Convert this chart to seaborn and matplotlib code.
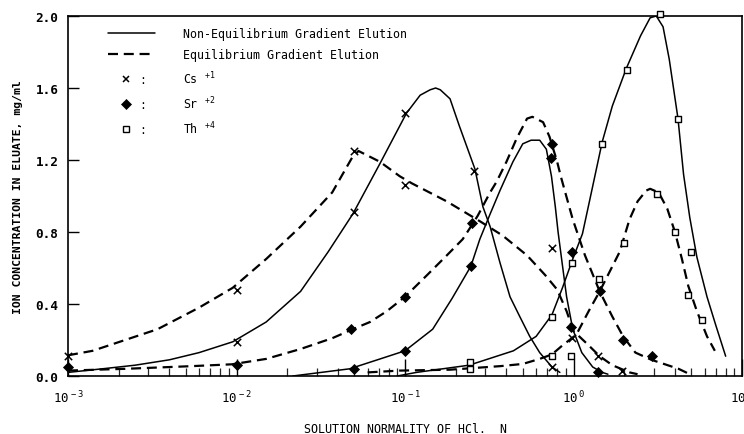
import numpy as np
import pandas as pd
import matplotlib
matplotlib.use("Agg")
import matplotlib.pyplot as plt
import seaborn as sns
from matplotlib.lines import Line2D
from matplotlib.text import Text
from matplotlib.legend_handler import HandlerBase
from matplotlib.ticker import LogLocator, FuncFormatter, NullFormatter, FixedLocator

# ---------------- data ----------------
# curves (solution normality N, concentration mg/ml)
cs_neq_N = [0.001, 0.0016, 0.0025, 0.004, 0.006, 0.0095, 0.015, 0.024, 0.035, 0.049, 0.071, 0.102,
            0.123, 0.141, 0.152, 0.162, 0.185, 0.21, 0.26, 0.29, 0.32, 0.366, 0.42, 0.48, 0.55,
            0.63, 0.745, 0.83]
cs_neq_y = [0.02, 0.04, 0.06, 0.09, 0.13, 0.19, 0.30, 0.47, 0.69, 0.90, 1.18, 1.46,
            1.56, 1.59, 1.60, 1.59, 1.54, 1.39, 1.15, 0.94, 0.83, 0.63, 0.44, 0.33, 0.22,
            0.13, 0.05, 0.02]

cs_eq_N = [0.001, 0.0014, 0.0034, 0.006, 0.0095, 0.015, 0.024, 0.037, 0.049, 0.053, 0.071, 0.093,
           0.11, 0.177, 0.278, 0.38, 0.53, 0.68, 0.80, 0.91, 1.0, 1.2, 1.43, 1.7, 2.15, 2.4]
cs_eq_y = [0.115, 0.14, 0.26, 0.38, 0.49, 0.65, 0.83, 1.02, 1.22, 1.25, 1.19, 1.11,
           1.07, 0.97, 0.86, 0.78, 0.67, 0.56, 0.48, 0.36, 0.25, 0.18, 0.11, 0.06, 0.02, 0.01]

sr_neq_N = [0.0216, 0.030, 0.047, 0.074, 0.1, 0.146, 0.19, 0.246, 0.278, 0.32, 0.366, 0.437,
            0.50, 0.56, 0.63, 0.69, 0.74, 0.78, 0.81, 0.85, 0.91, 0.99, 1.12, 1.3, 1.48, 1.6]
sr_neq_y = [0.0, 0.017, 0.04, 0.10, 0.14, 0.26, 0.43, 0.61, 0.76, 0.90, 1.03, 1.19,
            1.29, 1.31, 1.31, 1.26, 1.11, 0.94, 0.80, 0.65, 0.44, 0.26, 0.13, 0.05, 0.02, 0.01]

sr_eq_N = [0.001, 0.0022, 0.0055, 0.0094, 0.015, 0.024, 0.037, 0.049, 0.062, 0.078, 0.1, 0.135,
           0.177, 0.22, 0.25, 0.27, 0.32, 0.35, 0.40, 0.46, 0.53, 0.57, 0.66, 0.72, 0.80, 0.84,
           0.99, 1.17, 1.43, 1.7, 1.97, 2.33, 2.9, 4.2, 4.9]
sr_eq_y = [0.03, 0.04, 0.055, 0.065, 0.095, 0.15, 0.21, 0.26, 0.30, 0.36, 0.44, 0.56,
           0.67, 0.76, 0.84, 0.89, 1.02, 1.08, 1.19, 1.32, 1.43, 1.44, 1.41, 1.33, 1.19, 1.11,
           0.87, 0.67, 0.47, 0.33, 0.22, 0.13, 0.09, 0.04, 0.01]

th_neq_N = [0.09, 0.117, 0.24, 0.44, 0.6, 0.745, 0.86, 0.99, 1.13, 1.25, 1.48, 1.7, 2.06, 2.5,
            2.85, 3.1, 3.4, 3.7, 4.17, 4.5, 4.9, 5.4, 6.2, 7.0, 8.0]
th_neq_y = [0.0, 0.02, 0.06, 0.14, 0.22, 0.34, 0.49, 0.65, 0.79, 0.98, 1.30, 1.50, 1.71, 1.89,
            1.99, 2.0, 1.94, 1.76, 1.43, 1.12, 0.88, 0.66, 0.44, 0.28, 0.11]

th_eq_N = [0.06, 0.093, 0.185, 0.37, 0.5, 0.63, 0.745, 0.86, 1.04, 1.23, 1.43, 1.64, 1.88, 2.15,
           2.4, 2.7, 2.85, 3.2, 3.6, 4.0, 4.4, 4.8, 5.4, 6.2, 6.9]
th_eq_y = [0.02, 0.03, 0.035, 0.055, 0.067, 0.095, 0.12, 0.17, 0.23, 0.36, 0.47, 0.58, 0.69, 0.87,
           0.97, 1.03, 1.04, 1.02, 0.93, 0.80, 0.65, 0.50, 0.36, 0.22, 0.14]

# measured points
cs_pts_N = [0.001, 0.01, 0.05, 0.1, 0.745, 0.98, 1.40, 1.94, 0.01, 0.05, 0.1, 0.257, 0.745]
cs_pts_y = [0.11, 0.48, 1.25, 1.06, 0.71, 0.21, 0.11, 0.03, 0.19, 0.91, 1.46, 1.14, 0.05]

sr_pts_N = [0.001, 0.01, 0.048, 0.1, 0.25, 0.745, 0.98, 1.43, 1.98, 2.92,
            0.05, 0.1, 0.246, 0.74, 0.96, 1.40]
sr_pts_y = [0.05, 0.06, 0.26, 0.44, 0.85, 1.29, 0.69, 0.47, 0.20, 0.11,
            0.04, 0.14, 0.61, 1.21, 0.27, 0.02]

th_pts_N = [0.243, 0.745, 0.98, 1.48, 2.08, 3.26, 4.17, 4.95,
            0.243, 0.745, 0.96, 1.41, 2.0, 3.13, 4.0, 4.8, 5.8]
th_pts_y = [0.08, 0.33, 0.63, 1.29, 1.70, 2.01, 1.43, 0.69,
            0.04, 0.11, 0.11, 0.54, 0.74, 1.01, 0.80, 0.45, 0.31]

legend_labels = ["Non-Equilibrium Gradient Elution", "Equilibrium Gradient Elution",
                 r"Cs $^{+1}$", r"Sr $^{+2}$", r"Th $^{+4}$"]
x_label = "SOLUTION NORMALITY OF HCl.  N"
y_label = "ION CONCENTRATION IN ELUATE, mg/ml"
y_ticks = [0.0, 0.4, 0.8, 1.2, 1.6, 2.0]

# ---------------- style ----------------
sns.set_theme(style="ticks")
MONO = "DejaVu Sans Mono"
plt.rcParams["font.family"] = [MONO, "DejaVu Sans"]
plt.rcParams["mathtext.fontset"] = "custom"
plt.rcParams["mathtext.rm"] = MONO
plt.rcParams["mathtext.it"] = MONO
plt.rcParams["mathtext.bf"] = MONO + ":bold"

fig = plt.figure(figsize=(7.44, 4.35), dpi=100)
ax = fig.add_axes([68 / 744, 1 - 377 / 435, 674 / 744, 360 / 435])
ax.set_xscale("log")

SOLID = dict(color="black", linewidth=1.1, linestyle="-")
DASH = dict(color="black", linewidth=1.6, linestyle=(0, (4.5, 2.6)))

curves = [(cs_neq_N, cs_neq_y, SOLID), (cs_eq_N, cs_eq_y, DASH),
          (sr_neq_N, sr_neq_y, SOLID), (sr_eq_N, sr_eq_y, DASH),
          (th_neq_N, th_neq_y, SOLID), (th_eq_N, th_eq_y, DASH)]
for xs, ys, st in curves:
    df = pd.DataFrame({"N": xs, "c": ys})
    sns.lineplot(data=df, x="N", y="c", ax=ax, estimator=None, sort=False, **st)

sns.scatterplot(x=cs_pts_N, y=cs_pts_y, ax=ax, marker="x", color="black", s=28,
                linewidth=1.1, zorder=4, clip_on=False)
sns.scatterplot(x=sr_pts_N, y=sr_pts_y, ax=ax, marker="D", color="black", s=32,
                linewidth=0, zorder=4, clip_on=False)
sns.scatterplot(x=th_pts_N, y=th_pts_y, ax=ax, marker="s", color="black", s=24,
                linewidth=1.0, zorder=4, clip_on=False)
coll = ax.collections[-1]
coll.set_facecolor("white")
coll.set_edgecolor("black")

ax.set_xlim(1e-3, 1e1)
ax.set_ylim(0, 2.0)
ax.xaxis.set_major_locator(LogLocator(base=10, numticks=10))
ax.xaxis.set_minor_locator(LogLocator(base=10, subs=np.arange(2, 10), numticks=20))
ax.xaxis.set_minor_formatter(NullFormatter())
ax.xaxis.set_major_formatter(FuncFormatter(lambda v, p: r"$10^{\ %d}$" % round(np.log10(v))))
ax.yaxis.set_major_locator(FixedLocator(y_ticks))
ax.yaxis.set_major_formatter(FuncFormatter(lambda v, p: "%.1f" % v))

ax.tick_params(axis="x", which="major", direction="in", length=12, width=1.0, pad=9,
               labelsize=9, colors="black", top=False)
ax.tick_params(axis="x", which="minor", direction="in", length=6, width=0.9, top=False)
ax.tick_params(axis="y", which="major", direction="in", length=8, width=1.0, pad=7,
               labelsize=9.2, colors="black", right=False)
for lab in ax.get_yticklabels():
    lab.set_fontweight("bold")
for sp in ax.spines.values():
    sp.set_visible(True)
    sp.set_color("black")
    sp.set_linewidth(1.2)

ax.set_xlabel(x_label, fontsize=8.4, labelpad=12, color="black")
ax.set_ylabel(y_label, fontsize=8.2, labelpad=9, color="black", fontweight="bold")
ax.grid(False)


# ---------------- legend ----------------
class MarkColon(HandlerBase):
    def create_artists(self, legend, orig_handle, xdescent, ydescent, width, height,
                       fontsize, trans):
        y = height / 2 - ydescent
        m = Line2D([-xdescent + width * 0.38], [y], linestyle="none",
                   marker=orig_handle.get_marker(),
                   markersize=orig_handle.get_markersize(),
                   markerfacecolor=orig_handle.get_markerfacecolor(),
                   markeredgecolor="black",
                   markeredgewidth=orig_handle.get_markeredgewidth())
        m.set_transform(trans)
        t = Text(-xdescent + width * 0.75, y, ":", ha="center", va="center",
                 fontsize=fontsize, family=MONO, color="black")
        t.set_transform(trans)
        return [m, t]


h_solid = Line2D([], [], color="black", linewidth=1.1)
h_dash = Line2D([], [], color="black", linewidth=1.6, linestyle=(0, (4.5, 2.6)))
h_cs = Line2D([], [], linestyle="none", marker="x", markersize=5, color="black",
              markeredgewidth=1.1)
h_sr = Line2D([], [], linestyle="none", marker="D", markersize=5, markerfacecolor="black",
              markeredgecolor="black", markeredgewidth=0.5)
h_th = Line2D([], [], linestyle="none", marker="s", markersize=5, markerfacecolor="white",
              markeredgecolor="black", markeredgewidth=1.0)
mc = MarkColon()
leg = ax.legend([h_solid, h_dash, h_cs, h_sr, h_th], legend_labels,
                handler_map={h_cs: mc, h_sr: mc, h_th: mc},
                loc="upper left", bbox_to_anchor=(40 / 674, 1 - 11 / 360),
                frameon=False, borderaxespad=0, borderpad=0, fontsize=8.4,
                handlelength=4.0, handletextpad=2.4, labelspacing=0.72)
for t in leg.get_texts():
    t.set_color("black")

fig.savefig("out.png", dpi=100)
